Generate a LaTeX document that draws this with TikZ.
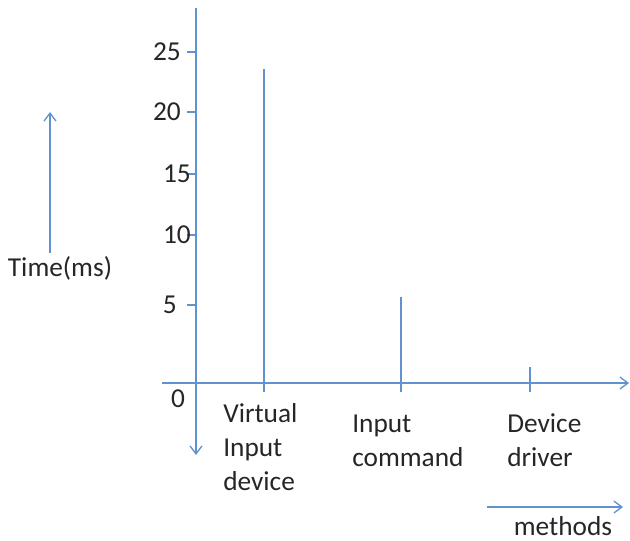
\documentclass[tikz,border=0pt]{standalone}
\usepackage{fontspec}
\setmainfont{Carlito}
\usetikzlibrary{arrows.meta,positioning}
\definecolor{axisblue}{RGB}{98,146,206}
\tikzstyle{bar} =[draw=axisblue, line width=1pt]
\tikzstyle{axis}=[bar, -{Straight Barb[length=6pt,width=9pt]}]
\tikzstyle{lbl} =[inner sep=0pt, text=black!85,
                  font=\fontsize{20.5}{25.5}\selectfont]

\begin{document}
\begin{tikzpicture}[x=0.75pt, y=-0.75pt]
    \useasboundingbox (0,0) rectangle (630,540);
    % axes
    \coordinate (ytop) at (196,8);
    \coordinate (ybot) at (196,455);
    \coordinate (xl) at (162,383);
    \coordinate (xr) at (629,383);
    \draw[axis] (ytop) to (ybot);
    \draw[axis] (xl) to (xr);
    \node[lbl] (zero) at (178,399) {0};

    \foreach \v/\y/\lx in {5/305/177,10/235/191,15/174/191,20/112/181,25/52/181}{
        \coordinate (tk\v) at (187,\y);
        \draw[bar] (tk\v) to (ytop |- tk\v);
        \node[lbl, anchor=east] (t\v) at (\lx,\y) {\v};
    }

    % one bar per method
    \foreach \n/\x/\top in {vid/264/69,cmd/401/297,drv/530/367}{
        \coordinate (\n top) at (\x,\top);
        \coordinate (\n bot) at (\x,392);
        \draw[bar] (\n top) to (\n bot);
    }
    \node[lbl, anchor=base west, align=left] (vid) at (223,490) {Virtual\\Input\\device};
    \node[lbl, anchor=base west, align=left] (cmd) at (352,466) {Input\\command};
    \node[lbl, anchor=base west, align=left] (drv) at (507,466) {Device\\driver};

    % axis captions
    \coordinate (tb) at (50,253);
    \coordinate (tt) at (50,112);
    \draw[axis] (tb) to (tt);
    \node[lbl] (time) at (60,268) {Time(ms)};
    \coordinate (ml) at (487,507);
    \coordinate (mr) at (623,507);
    \draw[axis] (ml) to (mr);
    \node[lbl, anchor=base] (meth) at (563,535) {methods};
\end{tikzpicture}
\end{document}
